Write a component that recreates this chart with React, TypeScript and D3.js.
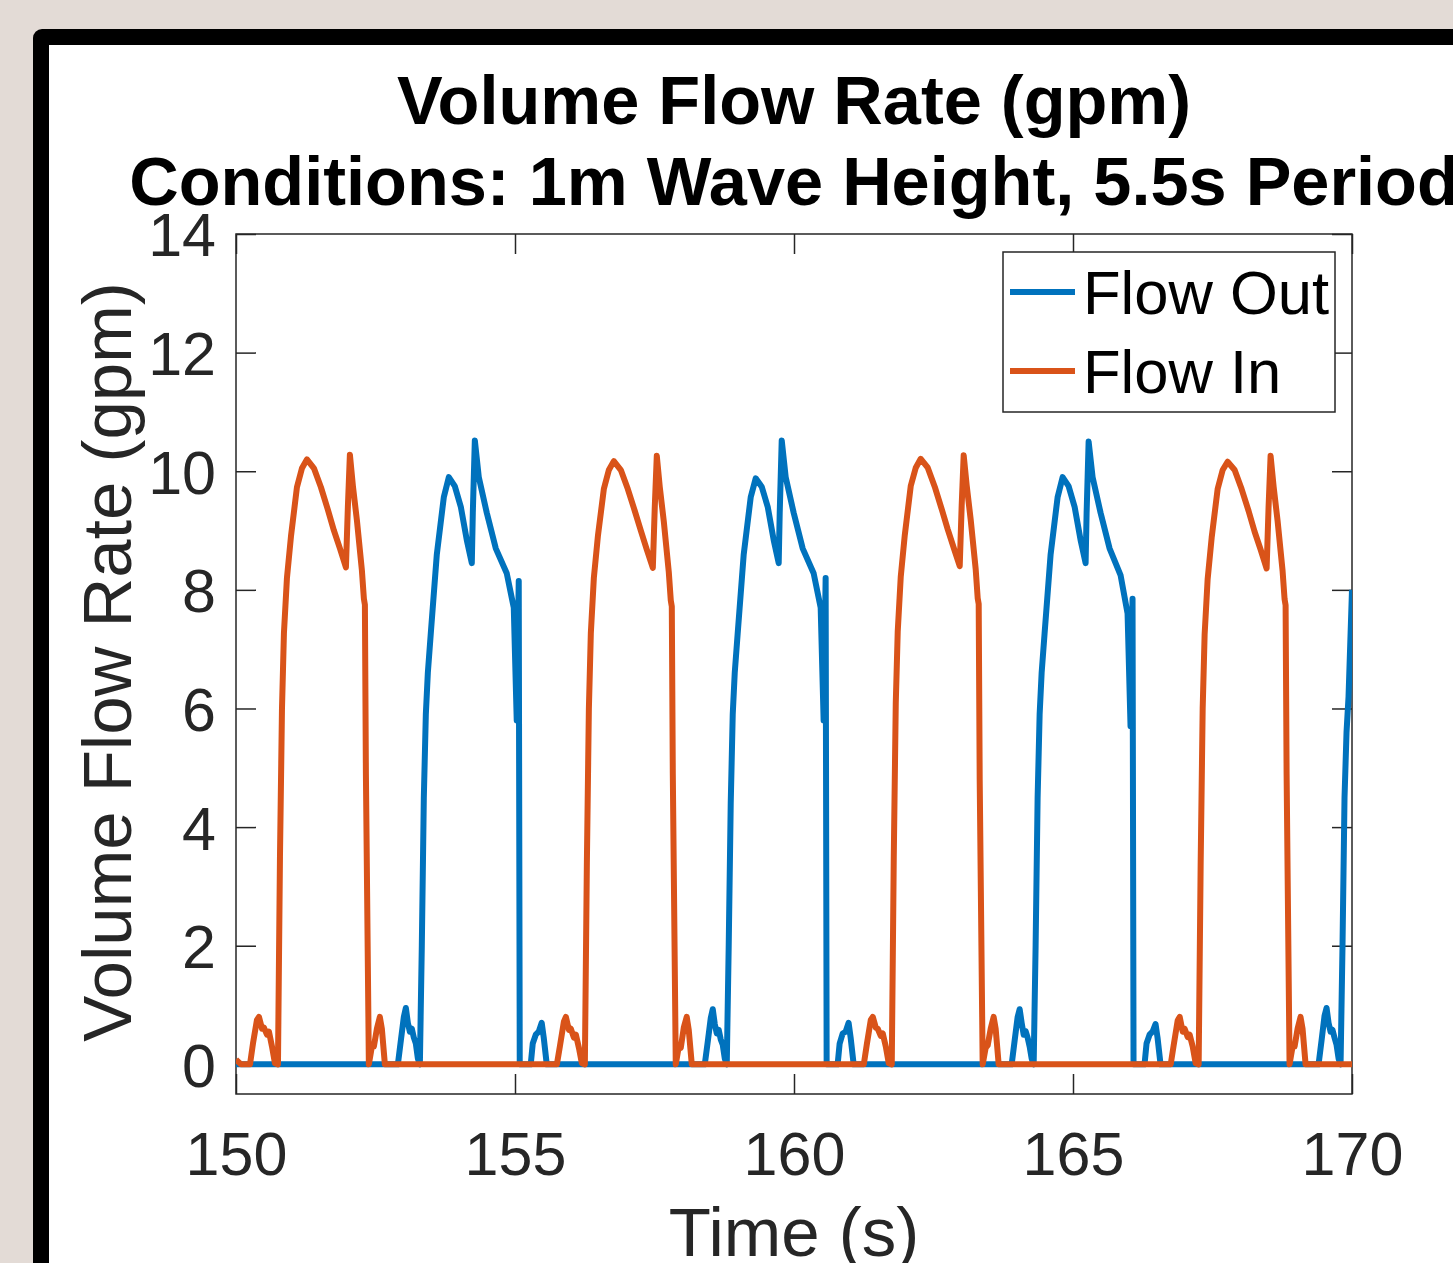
import React, { useRef, useEffect } from 'react';
import * as d3 from 'd3';

// [time (s), flow (gpm)]
const flowOut: [number, number][] = [
    [150.0, 0], [152.901, 0], [152.954, 0.4], [153.008, 0.8], [153.044, 0.95], [153.08, 0.7], [153.116, 0.55],
    [153.151, 0.6], [153.187, 0.45], [153.223, 0.35], [153.259, 0.1], [153.295, 0], [153.33, 2.0], [153.366, 4.5],
    [153.402, 5.9], [153.438, 6.6], [153.491, 7.27], [153.599, 8.6], [153.724, 9.56], [153.814, 9.9], [153.921, 9.75],
    [154.029, 9.4], [154.136, 8.84], [154.226, 8.45], [154.244, 9.3], [154.28, 10.52], [154.351, 9.9], [154.494, 9.3],
    [154.655, 8.7], [154.852, 8.28], [154.978, 7.7], [155.031, 5.8], [155.067, 8.15], [155.085, 0], [155.282, 0],
    [155.318, 0.35], [155.372, 0.5], [155.425, 0.55], [155.479, 0.7], [155.515, 0.45], [155.569, 0],
    [158.401, 0], [158.454, 0.38], [158.508, 0.78], [158.544, 0.93], [158.58, 0.68], [158.616, 0.52], [158.651, 0.58],
    [158.687, 0.42], [158.723, 0.33], [158.759, 0.1], [158.795, 0], [158.83, 2.0], [158.866, 4.4], [158.902, 5.9],
    [158.938, 6.6], [158.991, 7.27], [159.099, 8.6], [159.224, 9.56], [159.314, 9.88], [159.421, 9.74], [159.529, 9.4],
    [159.636, 8.84], [159.726, 8.45], [159.744, 9.3], [159.78, 10.52], [159.851, 9.9], [159.994, 9.3], [160.155, 8.7],
    [160.352, 8.28], [160.478, 7.7], [160.531, 5.8], [160.567, 8.2], [160.585, 0], [160.782, 0], [160.818, 0.35],
    [160.872, 0.52], [160.925, 0.55], [160.979, 0.7], [161.015, 0.45], [161.069, 0],
    [163.901, 0], [163.954, 0.4], [164.008, 0.8], [164.044, 0.93], [164.08, 0.7], [164.116, 0.5], [164.151, 0.56],
    [164.187, 0.45], [164.223, 0.3], [164.259, 0.1], [164.295, 0], [164.33, 2.0], [164.366, 4.5], [164.402, 5.9],
    [164.438, 6.6], [164.491, 7.27], [164.599, 8.6], [164.724, 9.56], [164.814, 9.9], [164.921, 9.75], [165.029, 9.4],
    [165.136, 8.84], [165.226, 8.45], [165.244, 9.3], [165.28, 10.5], [165.351, 9.9], [165.494, 9.3], [165.655, 8.7],
    [165.852, 8.25], [165.978, 7.6], [166.031, 5.7], [166.067, 7.85], [166.085, 0], [166.282, 0], [166.318, 0.35],
    [166.372, 0.5], [166.425, 0.55], [166.479, 0.68], [166.515, 0.45], [166.569, 0],
    [169.401, 0], [169.454, 0.4], [169.508, 0.82], [169.544, 0.95], [169.58, 0.7], [169.616, 0.55], [169.651, 0.58],
    [169.687, 0.45], [169.723, 0.33], [169.759, 0.1], [169.795, 0], [169.83, 2.0], [169.866, 4.5], [169.902, 5.6],
    [169.938, 6.2], [170.0, 8.0]
];

const flowIn: [number, number][] = [
    [150.0, 0.08], [150.09, 0], [150.251, 0], [150.304, 0.35], [150.376, 0.75], [150.412, 0.8], [150.466, 0.6],
    [150.501, 0.62], [150.555, 0.5], [150.591, 0.55], [150.645, 0.3], [150.698, 0.02], [150.752, 0], [150.788, 3.5],
    [150.824, 6.0], [150.859, 7.27], [150.913, 8.2], [150.985, 8.9], [151.092, 9.73], [151.182, 10.05], [151.271, 10.2],
    [151.397, 10.05], [151.522, 9.73], [151.647, 9.35], [151.755, 9.0], [151.862, 8.7], [151.97, 8.38], [152.005, 9.4],
    [152.041, 10.28], [152.095, 9.75], [152.167, 9.17], [152.256, 8.33], [152.292, 7.85], [152.31, 7.75], [152.328, 4.9],
    [152.381, 0], [152.435, 0.3], [152.471, 0.3], [152.525, 0.6], [152.578, 0.8], [152.614, 0.6], [152.668, 0],
    [155.751, 0], [155.804, 0.3], [155.876, 0.72], [155.912, 0.8], [155.966, 0.58], [156.001, 0.6], [156.055, 0.45],
    [156.091, 0.5], [156.145, 0.28], [156.198, 0.02], [156.252, 0], [156.288, 3.4], [156.324, 6.0], [156.359, 7.27],
    [156.413, 8.2], [156.485, 8.9], [156.592, 9.7], [156.682, 10.02], [156.771, 10.17], [156.897, 10.02], [157.022, 9.7],
    [157.147, 9.33], [157.255, 9.0], [157.362, 8.68], [157.47, 8.37], [157.505, 9.4], [157.541, 10.26], [157.595, 9.73],
    [157.667, 9.15], [157.756, 8.3], [157.792, 7.82], [157.81, 7.72], [157.828, 4.9], [157.881, 0], [157.935, 0.3],
    [157.971, 0.28], [158.025, 0.62], [158.078, 0.8], [158.114, 0.58], [158.168, 0],
    [161.251, 0], [161.304, 0.33], [161.376, 0.75], [161.412, 0.8], [161.466, 0.62], [161.501, 0.6], [161.555, 0.48],
    [161.591, 0.52], [161.645, 0.3], [161.698, 0.02], [161.752, 0], [161.788, 3.5], [161.824, 6.1], [161.859, 7.3],
    [161.913, 8.22], [161.985, 8.92], [162.092, 9.75], [162.182, 10.06], [162.271, 10.21], [162.397, 10.06], [162.522, 9.74],
    [162.647, 9.36], [162.755, 9.02], [162.862, 8.71], [162.97, 8.4], [163.005, 9.42], [163.041, 10.27], [163.095, 9.76],
    [163.167, 9.18], [163.256, 8.35], [163.292, 7.86], [163.31, 7.76], [163.328, 4.8], [163.381, 0], [163.435, 0.28],
    [163.471, 0.32], [163.525, 0.6], [163.578, 0.8], [163.614, 0.6], [163.668, 0],
    [166.751, 0], [166.804, 0.32], [166.876, 0.74], [166.912, 0.8], [166.966, 0.55], [167.001, 0.6], [167.055, 0.46],
    [167.091, 0.5], [167.145, 0.3], [167.198, 0.02], [167.252, 0], [167.288, 3.4], [167.324, 6.0], [167.359, 7.25],
    [167.413, 8.18], [167.485, 8.88], [167.592, 9.7], [167.682, 10.02], [167.771, 10.16], [167.897, 10.02], [168.022, 9.7],
    [168.147, 9.33], [168.255, 8.98], [168.362, 8.68], [168.47, 8.36], [168.505, 9.4], [168.541, 10.26], [168.595, 9.74],
    [168.667, 9.16], [168.756, 8.32], [168.792, 7.84], [168.81, 7.74], [168.828, 4.9], [168.881, 0], [168.935, 0.3],
    [168.971, 0.3], [169.025, 0.6], [169.078, 0.8], [169.114, 0.6], [169.168, 0], [170.0, 0]
];

const seriesNames = ['Flow Out', 'Flow In'];
const seriesColors = ['#0072BD', '#D95319'];
const xTicks = [150, 155, 160, 165, 170];
const yTicks = [0, 2, 4, 6, 8, 10, 12, 14];
const titleLines = ['Volume Flow Rate (gpm)', 'Conditions: 1m Wave Height, 5.5s Period'];

const FONT = '"Liberation Sans", Arial, Helvetica, sans-serif';
const AXIS_COLOR = '#262626';

const App = () => {
    const ref = useRef<SVGSVGElement>(null);

    useEffect(() => {
        const svg = d3.select(ref.current);
        svg.selectAll('*').remove();

        const W = 1453, H = 1263;
        const box = { left: 236, top: 234, right: 1352, bottom: 1094 };

        // page background + black rounded frame
        svg.append('rect').attr('width', W).attr('height', H).attr('fill', '#e3dbd6');
        svg.append('rect').attr('x', 33).attr('y', 29).attr('width', W).attr('height', H)
            .attr('rx', 9).attr('fill', '#000');
        svg.append('rect').attr('x', 49).attr('y', 45).attr('width', W).attr('height', H).attr('fill', '#fff');

        const x = d3.scaleLinear().domain([150, 170]).range([box.left, box.right]);
        const y = d3.scaleLinear().domain([-0.5, 14]).range([box.bottom, box.top]);

        const styleAxis = (g, showText) => {
            g.attr('font-family', FONT).attr('font-size', 61);
            g.select('.domain').remove();
            g.selectAll('.tick line').attr('stroke', AXIS_COLOR).attr('stroke-width', 1.5);
            g.selectAll('.tick text').attr('fill', AXIS_COLOR);
            if (!showText) g.selectAll('.tick text').remove();
        };

        // ticks point inward, MATLAB style
        svg.append('g').attr('transform', `translate(${box.left},0)`)
            .call(d3.axisLeft(y).tickValues(yTicks).tickSizeInner(-20).tickSizeOuter(0).tickPadding(20))
            .call(g => styleAxis(g, true))
            .selectAll('.tick text').attr('dy', '0.36em');
        svg.append('g').attr('transform', `translate(${box.right},0)`)
            .call(d3.axisRight(y).tickValues(yTicks).tickSizeInner(-20).tickSizeOuter(0))
            .call(g => styleAxis(g, false));
        svg.append('g').attr('transform', `translate(0,${box.bottom})`)
            .call(d3.axisBottom(x).tickValues(xTicks).tickSizeInner(-20).tickSizeOuter(0).tickPadding(38))
            .call(g => styleAxis(g, true));
        svg.append('g').attr('transform', `translate(0,${box.top})`)
            .call(d3.axisTop(x).tickValues(xTicks).tickSizeInner(-20).tickSizeOuter(0))
            .call(g => styleAxis(g, false));

        svg.append('rect')
            .attr('x', box.left).attr('y', box.top)
            .attr('width', box.right - box.left).attr('height', box.bottom - box.top)
            .attr('fill', 'none').attr('stroke', AXIS_COLOR).attr('stroke-width', 1.5);

        svg.append('clipPath').attr('id', 'plot-clip')
            .append('rect')
            .attr('x', box.left).attr('y', box.top)
            .attr('width', box.right - box.left).attr('height', box.bottom - box.top);

        const line = d3.line<[number, number]>()
            .x(d => x(d[0]))
            .y(d => y(d[1]));

        [flowOut, flowIn].forEach((series, i) => {
            svg.append('path')
                .datum(series)
                .attr('clip-path', 'url(#plot-clip)')
                .attr('fill', 'none')
                .attr('stroke', seriesColors[i])
                .attr('stroke-width', 6)
                .attr('stroke-linejoin', 'round')
                .attr('d', line);
        });

        // legend
        const legend = svg.append('g');
        legend.append('rect')
            .attr('x', 1003).attr('y', 252).attr('width', 332).attr('height', 160)
            .attr('fill', '#fff').attr('stroke', AXIS_COLOR).attr('stroke-width', 1.5);
        seriesNames.forEach((name, i) => {
            const ly = 292 + i * 79;
            legend.append('line')
                .attr('x1', 1010).attr('x2', 1075).attr('y1', ly).attr('y2', ly)
                .attr('stroke', seriesColors[i]).attr('stroke-width', 6);
            legend.append('text')
                .attr('x', 1083).attr('y', ly).attr('dy', '0.36em')
                .attr('font-family', FONT).attr('font-size', 61.5).attr('fill', '#000')
                .text(name);
        });

        // titles and axis labels
        const cx = (box.left + box.right) / 2;
        titleLines.forEach((t, i) => {
            svg.append('text')
                .attr('x', cx).attr('y', 124 + i * 81)
                .attr('text-anchor', 'middle')
                .attr('font-family', FONT).attr('font-size', 68.5).attr('font-weight', 'bold')
                .attr('fill', '#000')
                .text(t);
        });

        svg.append('text')
            .attr('x', cx).attr('y', 1256)
            .attr('text-anchor', 'middle')
            .attr('font-family', FONT).attr('font-size', 69).attr('fill', AXIS_COLOR)
            .text('Time (s)');

        svg.append('text')
            .attr('transform', `translate(131,${(box.top + box.bottom) / 2 - 2}) rotate(-90)`)
            .attr('text-anchor', 'middle')
            .attr('font-family', FONT).attr('font-size', 69).attr('fill', AXIS_COLOR)
            .text('Volume Flow Rate (gpm)');
    }, []);

    return (
        <svg ref={ref} width={1453} height={1263} style={{ position: 'absolute', left: 0, top: 0 }}></svg>
    );
};

export default App;
